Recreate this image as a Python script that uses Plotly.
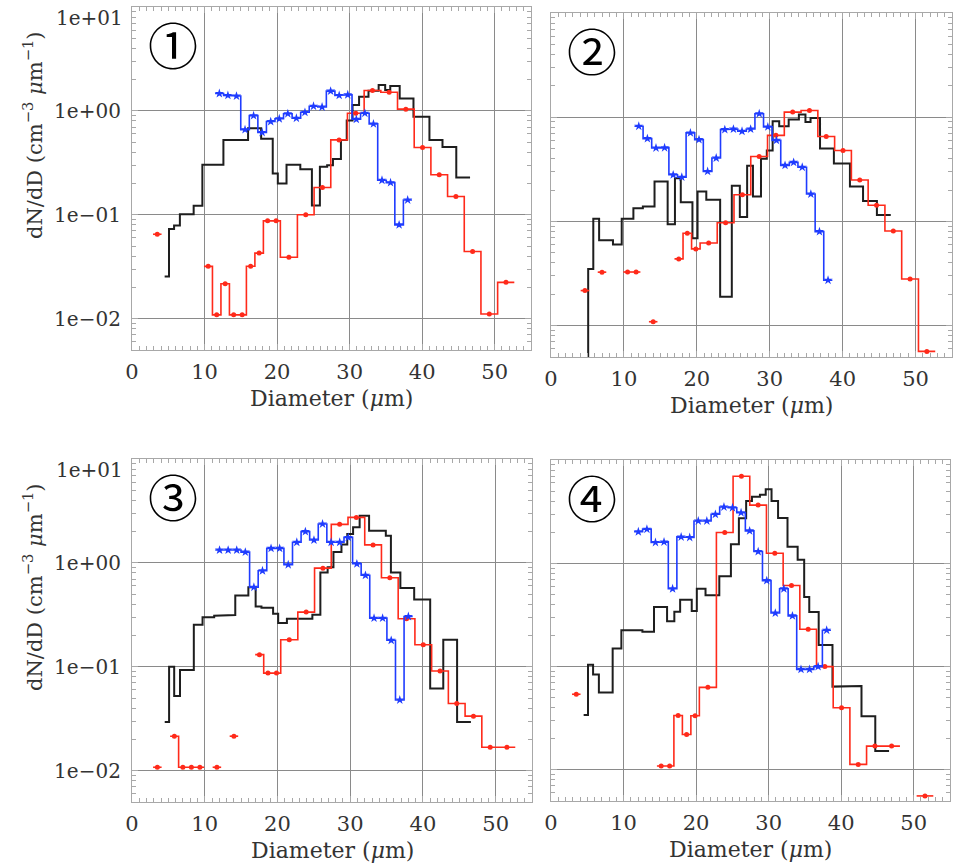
import math
import plotly.graph_objects as go

# ---------------- data ----------------
# bin edges (Diameter, um) of the three size distributions
black_edges = [4.5, 5.1, 5.8, 6.6, 8.5, 9.7, 11.3, 12.6, 14.2, 16.0, 17.0, 17.8, 19.4, 20.1,
               21.3, 23.2, 24.8, 25.9, 26.9, 27.7, 28.8, 29.6, 30.4, 31.3, 32.6, 34.0, 34.9,
               35.6, 36.9, 38.8, 41.0, 42.8, 44.7, 46.6]
red_edges = [2.9, 4.07, 5.24, 6.41, 7.58, 8.75, 9.92, 11.09, 12.26, 13.43, 14.6, 15.77, 16.94,
             18.11, 19.28, 20.45, 22.8, 25.1, 27.4, 29.7, 32.0, 34.3, 36.6, 38.9, 41.2, 43.5,
             45.8, 48.1, 50.4, 52.7]
blue_edges = [11.45, 12.63, 13.81, 14.99, 16.17, 17.35, 18.53, 19.71, 20.89, 22.07, 23.25,
              24.43, 25.61, 26.79, 27.97, 29.15, 30.33, 31.51, 32.69, 33.87, 35.05, 36.23,
              37.41, 38.59]

p1_black = [0.0255, 0.073, 0.079, 0.101, 0.122, 0.303, 0.303, 0.526, 0.526, 0.68, 0.68, 0.54,
            0.25, 0.20, 0.303, 0.275, 0.123, 0.29, 0.30, 0.345, 0.526, 0.81, 1.14, 1.37, 1.56,
            1.78, 1.59, 1.74, 1.32, 0.88, 0.526, 0.45, 0.229]
p1_red = [0.065, None, None, None, None, None, 0.0319, 0.0109, 0.0217, 0.0109, 0.0109, 0.032,
          0.0428, 0.0875, 0.0875, 0.039, 0.10, 0.183, 0.526, 0.95, 1.57, 1.51, 1.04, 0.444,
          0.243, 0.150, 0.0444, 0.0111, 0.0224]
p1_blue = [1.47, 1.41, 1.39, 0.66, 0.90, 0.62, 0.79, 0.84, 0.94, 0.85, 0.97, 1.11, 1.09, 1.55,
           1.41, 1.43, 0.83, 0.95, 0.75, 0.215, 0.204, 0.080, 0.139]

p2_black = [0.004, 0.035, 0.106, 0.066, 0.06, 0.106, 0.134, 0.139, 0.242, 0.094, 0.26, 0.153,
            0.069, 0.194, 0.161, 0.0189, 0.22, 0.11, 0.343, 0.173, 0.40, 0.48, 0.915, 0.82,
            0.95, 1.06, 0.90, 0.98, 0.50, 0.36, 0.216, 0.157, 0.115]
p2_red = [None, 0.0217, None, 0.0326, None, None, 0.0327, 0.0327, None, 0.0109, None, None,
          0.0437, 0.077, 0.0545, 0.062, 0.097, 0.18, 0.42, 0.67, 1.12, 1.16, 0.653, 0.479,
          0.25, 0.143, 0.081, 0.028, 0.00566]
p2_blue = [0.82, 0.623, 0.507, 0.51, 0.28, 0.266, 0.707, 0.61, 0.302, 0.406, 0.76, 0.77, 0.733,
           0.77, 1.08, 0.807, 0.6, 0.345, 0.369, 0.331, 0.183, 0.0798, 0.0273]

p3_black = [0.0295, 0.10, 0.0525, 0.093, 0.254, 0.30, 0.31, 0.315, 0.485, 0.584, 0.38, 0.37,
            0.324, 0.264, 0.29, 0.29, 0.317, 0.81, 0.91, 1.27, 1.5, 1.9, 2.2, 2.85, 2.04, 2.04,
            1.83, 0.81, 0.575, 0.445, 0.062, 0.182, 0.0295]
p3_red = [0.0108, None, 0.0215, 0.0108, 0.0108, 0.0108, None, 0.0108, None, 0.0215, None, None,
          0.131, 0.087, 0.087, 0.182, 0.336, 0.89, 2.35, 2.74, 1.49, 0.72, 0.29, 0.163, 0.091,
          0.0443, 0.0335, 0.0168, 0.0168]
p3_blue = [1.33, 1.33, 1.33, 1.27, 0.584, 0.84, 1.38, 1.38, 0.96, 1.58, 2.0, 1.66, 2.37, 1.58,
           1.58, 1.76, 0.98, 0.76, 0.294, 0.294, 0.18, 0.048, 0.305]

p4_black = [0.034, 0.104, 0.084, 0.056, 0.15, 0.225, 0.225, 0.217, 0.378, 0.275, 0.34, 0.444,
            0.345, 0.567, 0.49, 0.75, 1.53, 2.73, 4.0, 4.4, 4.6, 5.2, 4.0, 2.75, 1.45, 1.08,
            0.471, 0.338, 0.162, 0.064, 0.065, 0.033, 0.0152]
p4_red = [0.054, None, None, None, None, None, None, None, None, None, 0.0109, 0.0109, 0.0336,
          0.022, 0.0334, 0.063, 1.99, 6.97, 3.66, 1.25, 0.61, 0.23, 0.10, 0.04, 0.0113, 0.017,
          0.017, None, 0.0056]
p4_blue = [2.02, 2.14, 1.59, 1.61, 0.567, 1.80, 1.78, 2.57, 2.57, 2.98, 3.51, 3.45, 3.09, 2.06,
           1.30, 0.68, 0.33, 0.567, 0.31, 0.094, 0.094, 0.10, 0.225]

panel_labels = ["①", "②", "③", "④"]
y_tick_values = [0.01, 0.1, 1]
y_tick_text = ["1e\u221202", "1e\u221201", "1e+00"]
y_top_label = "1e+01"
x_title = "Diameter (<i>\u03bc</i>m)"
y_title = "dN/dD (cm<sup>\u22123</sup> <i>\u03bc</i>m<sup>\u22121</sup>)"

# ---------------- style / layout ----------------
W, H = 962, 864
FONT = "DejaVu Serif"
FRAME = "#a8a8a8"
GRID = "#8a8a8a"
TXT = "#333333"
C_BLACK = "#1e1e1e"
C_RED = "#ff2a1a"
C_BLUE = "#1f3cff"

# panel boxes in pixels: (left, right, top, bottom)
boxes = [(132, 531, 7, 350), (551, 952, 13, 357), (132, 532, 459, 802), (551, 950, 460, 801)]
series = [(p1_black, p1_red, p1_blue), (p2_black, p2_red, p2_blue),
          (p3_black, p3_red, p3_blue), (p4_black, p4_red, p4_blue)]


def steps(edges, vals):
    xs, ys = [], []
    prev = False
    for i, v in enumerate(vals):
        if v is None:
            if prev:
                xs.append(None)
                ys.append(None)
            prev = False
            continue
        xs += [edges[i], edges[i + 1]]
        ys += [v, v]
        prev = True
    return xs, ys


def centers(edges, vals):
    xs, ys = [], []
    for i, v in enumerate(vals):
        if v is not None:
            xs.append(0.5 * (edges[i] + edges[i + 1]))
            ys.append(v)
    return xs, ys


fig = go.Figure()
layout = dict(width=W, height=H, margin=dict(l=0, r=0, t=0, b=0, autoexpand=False),
              paper_bgcolor="white", plot_bgcolor="white", showlegend=False)
annotations = []

for k, (box, (bk, rd, bl)) in enumerate(zip(boxes, series)):
    left, right, top, bottom = box
    xa = "x" if k == 0 else f"x{k+1}"
    ya = "y" if k == 0 else f"y{k+1}"
    xkey = "xaxis" if k == 0 else f"xaxis{k+1}"
    ykey = "yaxis" if k == 0 else f"yaxis{k+1}"

    x, y = steps(black_edges, bk)
    fig.add_trace(go.Scatter(x=x, y=y, mode="lines", line=dict(color=C_BLACK, width=2),
                             xaxis=xa, yaxis=ya, hoverinfo="skip"))
    x, y = steps(red_edges, rd)
    fig.add_trace(go.Scatter(x=x, y=y, mode="lines", line=dict(color=C_RED, width=1.6),
                             xaxis=xa, yaxis=ya, hoverinfo="skip"))
    x, y = centers(red_edges, rd)
    fig.add_trace(go.Scatter(x=x, y=y, mode="markers",
                             marker=dict(color=C_RED, size=5, symbol="circle"),
                             xaxis=xa, yaxis=ya))
    x, y = steps(blue_edges, bl)
    fig.add_trace(go.Scatter(x=x, y=y, mode="lines", line=dict(color=C_BLUE, width=1.6),
                             xaxis=xa, yaxis=ya, hoverinfo="skip"))
    x, y = centers(blue_edges, bl)
    fig.add_trace(go.Scatter(x=x, y=y, mode="markers",
                             marker=dict(color=C_BLUE, size=7, symbol="star"),
                             xaxis=xa, yaxis=ya))

    layout[xkey] = dict(
        domain=[left / W, right / W], anchor=ya, range=[0, 55],
        tickmode="linear", tick0=0, dtick=10,
        showgrid=True, gridcolor=GRID, gridwidth=1, zeroline=False,
        showline=True, linecolor=FRAME, linewidth=1.2, mirror="ticks",
        ticks="inside", ticklen=6, tickcolor=FRAME, tickwidth=1,
        minor=dict(dtick=1, tick0=0, ticks="inside", ticklen=4, tickcolor=FRAME, showgrid=False),
        tickfont=dict(family=FONT, size=21, color=TXT), ticklabelstandoff=3,
    )
    layout[ykey] = dict(
        domain=[1 - bottom / H, 1 - top / H], anchor=xa, type="log",
        range=[math.log10(0.005), 1],
        tickmode="array", tickvals=y_tick_values, ticktext=y_tick_text,
        showticklabels=(k in (0, 2)),
        showgrid=True, gridcolor=GRID, gridwidth=1, zeroline=False,
        showline=True, linecolor=FRAME, linewidth=1.2, mirror="ticks",
        ticks="inside", ticklen=6, tickcolor=FRAME, tickwidth=1,
        minor=dict(dtick="D1", ticks="inside", ticklen=4, tickcolor=FRAME, showgrid=False),
        tickfont=dict(family=FONT, size=20, color=TXT), ticklabelstandoff=6,
    )

    cx = (left + right) / 2 / W
    annotations.append(dict(text=x_title, x=cx, y=1 - (bottom + 48) / H, xref="paper",
                            yref="paper", showarrow=False, xanchor="center", yanchor="middle",
                            font=dict(family=FONT, size=22, color=TXT)))
    annotations.append(dict(text=panel_labels[k], x=(left + 14) / W, y=1 - (top + 36) / H,
                            xref="paper", yref="paper", showarrow=False, xanchor="left",
                            yanchor="middle",
                            font=dict(family="Noto Sans CJK JP", size=50, color="black")))
    if k in (0, 2):
        annotations.append(dict(text=y_top_label, x=(left - 7) / W, y=1 - (top + 11) / H,
                                xref="paper", yref="paper", showarrow=False, xanchor="right",
                                yanchor="middle",
                                font=dict(family=FONT, size=20, color=TXT)))
        annotations.append(dict(text=y_title, x=33 / W, y=1 - (top + 128) / H,
                                xref="paper", yref="paper", showarrow=False, textangle=-90,
                                xanchor="center", yanchor="middle",
                                font=dict(family=FONT, size=21, color=TXT)))

layout["annotations"] = annotations
fig.update_layout(**layout)
fig.write_html(
    "out.html",
    config={"displayModeBar": False},
    post_script="document.body.style.margin='0';document.body.style.padding='0';"
                "document.body.style.overflow='hidden';",
)
